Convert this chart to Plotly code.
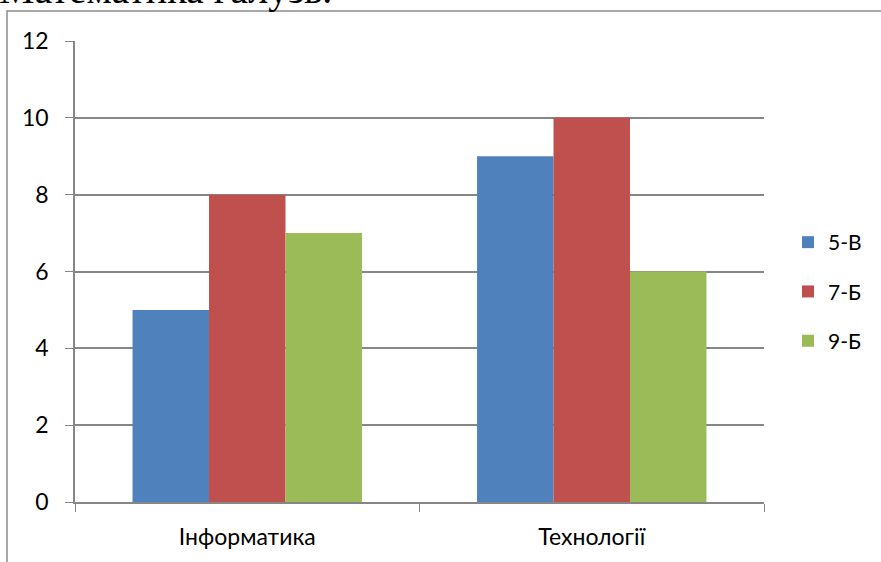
import plotly.graph_objects as go

categories = ["Інформатика", "Технології"]
series_names = ["5-В", "7-Б", "9-Б"]
values_5v = [5, 9]
values_7b = [8, 10]
values_9b = [7, 6]
colors = ["#4F81BD", "#C0504D", "#9BBB59"]
y_ticks = [0, 2, 4, 6, 8, 10, 12]

W, H = 881, 562
L, R, T, B = 75, 881 - 764, 41, 562 - 502
pw, ph = W - L - R, H - T - B

fig = go.Figure()
for name, vals, col in zip(series_names, [values_5v, values_7b, values_9b], colors):
    fig.add_trace(go.Bar(x=categories, y=vals, name=name, legendgroup=name,
                         marker=dict(color=col, line=dict(width=0))))

def px_x(p):
    return (p - L) / pw

def px_y(p):
    return (H - B - p) / ph

fig.add_shape(type="rect", xref="paper", yref="paper",
              x0=px_x(7), x1=px_x(1200), y0=px_y(900), y1=px_y(11),
              line=dict(color="#8C8C8C", width=1.5), fillcolor="rgba(0,0,0,0)", layer="below")

fig.add_annotation(text="Математика галузь.", xref="paper", yref="paper",
                   x=px_x(-3), y=px_y(-11), xanchor="left", yanchor="middle",
                   showarrow=False, font=dict(family="Liberation Serif", size=40, color="black"))

fig.update_layout(
    width=W, height=H,
    margin=dict(l=L, r=R, t=T, b=B, autoexpand=False),
    paper_bgcolor="white", plot_bgcolor="white",
    barmode="group", bargap=0.334, bargroupgap=0,
    font=dict(family="Lato", size=23, color="black"),
    showlegend=True,
    legend=dict(x=px_x(788), y=px_y(222), xanchor="left", yanchor="top",
                font=dict(size=21), tracegroupgap=19, itemwidth=30,
                bgcolor="rgba(0,0,0,0)"),
    xaxis=dict(showline=True, linecolor="#868686", linewidth=1.5,
               ticks="outside", tickson="boundaries", ticklen=8, tickcolor="#868686",
               showgrid=False, tickfont=dict(size=23), ticklabelstandoff=14),
    yaxis=dict(range=[0, 12], tickvals=y_ticks, showline=True, linecolor="#868686", linewidth=1.5,
               ticks="outside", ticklen=8, tickcolor="#868686",
               showgrid=True, gridcolor="#868686", gridwidth=1.5,
               zeroline=False, tickfont=dict(size=23), ticklabelstandoff=12),
)

fig.write_html("out.html", config={"displayModeBar": False},
               post_script="document.body.style.margin='0';")
